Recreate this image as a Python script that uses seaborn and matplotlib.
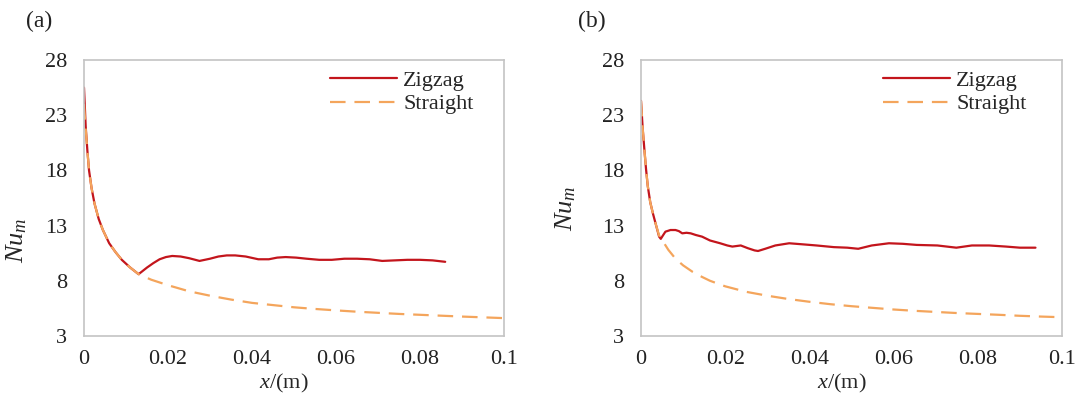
import numpy as np
import pandas as pd
import matplotlib
matplotlib.use("Agg")
import matplotlib.pyplot as plt
import seaborn as sns

# (a) straight channel
a_straight_x = [0, 0.0004, 0.0008, 0.0012, 0.0018, 0.0025, 0.0035, 0.0045, 0.006, 0.0075,
                0.009, 0.011, 0.013, 0.016, 0.02, 0.025, 0.03, 0.035, 0.04, 0.045, 0.05,
                0.055, 0.06, 0.065, 0.07, 0.075, 0.08, 0.085, 0.09, 0.095, 0.1]
a_straight_y = [24.0, 21.8, 19.8, 18.0, 16.4, 15.0, 13.6, 12.6, 11.4, 10.6,
                9.9, 9.2, 8.6, 8.1, 7.6, 7.05, 6.65, 6.3, 6.0, 5.8, 5.6,
                5.45, 5.32, 5.2, 5.1, 5.0, 4.92, 4.84, 4.76, 4.69, 4.62]

# (a) zigzag channel
a_zigzag_x = [0, 0.0004, 0.0008, 0.0012, 0.0018, 0.0025, 0.0035, 0.0045, 0.006, 0.0075,
              0.009, 0.011, 0.013, 0.0135, 0.015, 0.0165, 0.018, 0.0195, 0.021, 0.023,
              0.025, 0.0275, 0.03, 0.032, 0.034, 0.036, 0.0385, 0.0415, 0.044, 0.046,
              0.048, 0.0505, 0.053, 0.056, 0.059, 0.062, 0.065, 0.068, 0.071, 0.074,
              0.077, 0.080, 0.083, 0.086]
a_zigzag_y = [25.5, 22.0, 19.8, 18.0, 16.4, 15.0, 13.6, 12.6, 11.4, 10.6,
              9.9, 9.2, 8.6, 8.75, 9.2, 9.6, 9.95, 10.15, 10.25, 10.2,
              10.05, 9.8, 10.0, 10.2, 10.3, 10.3, 10.2, 9.95, 9.95, 10.1,
              10.15, 10.1, 10.0, 9.9, 9.9, 10.0, 10.0, 9.95, 9.8, 9.85,
              9.9, 9.9, 9.85, 9.72]

# (b) straight channel
b_straight_x = [0, 0.0004, 0.0008, 0.0012, 0.0016, 0.0022, 0.0029, 0.0036, 0.0043, 0.005,
                0.0065, 0.0082, 0.01, 0.0123, 0.0145, 0.0164, 0.02, 0.025, 0.03, 0.035,
                0.04, 0.045, 0.05, 0.055, 0.06, 0.065, 0.07, 0.075, 0.08, 0.085, 0.09,
                0.095, 0.1]
b_straight_y = [24.3, 21.8, 19.9, 18.1, 16.6, 15.1, 14.0, 13.0, 12.1, 11.7,
                10.8, 10.0, 9.4, 8.8, 8.35, 8.0, 7.5, 7.0, 6.65, 6.35,
                6.1, 5.88, 5.7, 5.55, 5.4, 5.28, 5.18, 5.08, 5.0, 4.92, 4.83,
                4.76, 4.7]

# (b) zigzag channel
b_zigzag_x = [0, 0.0004, 0.0008, 0.0012, 0.0016, 0.0022, 0.0029, 0.0036, 0.0043, 0.0047,
              0.0052, 0.0058, 0.007, 0.0082, 0.009, 0.0098, 0.0108, 0.0118, 0.013, 0.0145,
              0.0164, 0.0188, 0.0205, 0.0217, 0.0237, 0.0254, 0.027, 0.0278, 0.0295, 0.0319,
              0.0352, 0.0385, 0.0417, 0.0458, 0.049, 0.0516, 0.0548, 0.0589, 0.0622, 0.0655,
              0.0704, 0.0749, 0.0786, 0.0827, 0.0867, 0.09, 0.0937]
b_zigzag_y = [24.3, 21.8, 19.9, 18.1, 16.6, 15.1, 14.0, 13.0, 12.0, 11.8,
              12.1, 12.45, 12.6, 12.6, 12.5, 12.3, 12.35, 12.3, 12.15, 12.0,
              11.65, 11.4, 11.2, 11.1, 11.2, 10.95, 10.75, 10.7, 10.9, 11.2,
              11.4, 11.3, 11.2, 11.05, 11.0, 10.9, 11.2, 11.4, 11.35, 11.25,
              11.2, 11.0, 11.2, 11.2, 11.1, 11.0, 11.0]

x_ticks = [0, 0.02, 0.04, 0.06, 0.08, 0.1]
x_tick_labels = ["0", "0.02", "0.04", "0.06", "0.08", "0.1"]
y_ticks = [3, 8, 13, 18, 23, 28]
panel_names = ["(a)", "(b)"]
series_names = ["Zigzag", "Straight"]


def make_frame(zx, zy, sx, sy):
    z = pd.DataFrame({"x": zx, "Nu": zy, "Channel": "Zigzag"})
    s = pd.DataFrame({"x": sx, "Nu": sy, "Channel": "Straight"})
    return pd.concat([z, s], ignore_index=True)


frames = [make_frame(a_zigzag_x, a_zigzag_y, a_straight_x, a_straight_y),
          make_frame(b_zigzag_x, b_zigzag_y, b_straight_x, b_straight_y)]

sns.set_style("white")
plt.rcParams["font.family"] = ["Liberation Serif", "DejaVu Serif"]
plt.rcParams["mathtext.fontset"] = "custom"
plt.rcParams["mathtext.rm"] = "Liberation Serif"
plt.rcParams["mathtext.it"] = "Liberation Serif:italic"

palette = {"Zigzag": "#c3151c", "Straight": "#f4a55c"}
dashes = {"Zigzag": "", "Straight": (7, 4)}

fig = plt.figure(figsize=(10.77, 3.97), dpi=100)
W, H = 1077, 397
boxes = [(84, 60, 504, 336), (641, 60, 1062, 336)]
ylabel_pos = [(17, 240), (566, 208)]
xlabel_cx = [284, 842]
legend_x = [330, 883]
panel_pos = [(39, 21), (592, 21)]

for i, df in enumerate(frames):
    x0, y0, x1, y1 = boxes[i]
    ax = fig.add_axes([x0 / W, 1 - y1 / H, (x1 - x0) / W, (y1 - y0) / H])
    sns.lineplot(data=df, x="x", y="Nu", hue="Channel", style="Channel",
                 hue_order=series_names, style_order=series_names,
                 palette=palette, dashes=dashes, estimator=None, sort=False,
                 linewidth=1.6, ax=ax)
    ax.set_xlim(0, 0.1)
    ax.set_ylim(3, 28)
    ax.set_xticks(x_ticks)
    ax.set_xticklabels(x_tick_labels)
    ax.set_yticks(y_ticks)
    ax.tick_params(direction="in", length=4, width=1, color="#bdbdbd",
                   labelsize=16, pad=12, colors="#222222")
    ax.tick_params(axis="x", pad=10)
    for sp in ax.spines.values():
        sp.set_color("#c4c4c4")
        sp.set_linewidth(1.2)

    ax.set_ylabel("$Nu_m$", fontsize=19, va="center")
    ax.yaxis.set_label_coords((ylabel_pos[i][0] - x0) / (x1 - x0),
                              (y1 - ylabel_pos[i][1]) / (y1 - y0))
    # reference crops this label at the bottom edge; nudged up so it stays whole
    ax.set_xlabel("$x$/(m)", fontsize=16, va="top")
    ax.xaxis.set_label_coords((xlabel_cx[i] - x0) / (x1 - x0),
                              (y1 - 372) / (y1 - y0))

    handles, labels = ax.get_legend_handles_labels()
    ax.legend(handles, labels, loc="upper left", frameon=False, fontsize=16,
              handlelength=3.0, handletextpad=0.3, labelspacing=0.15,
              borderpad=0, borderaxespad=0,
              bbox_to_anchor=((legend_x[i] - x0) / (x1 - x0), (y1 - 70) / (y1 - y0)))

    fig.text(panel_pos[i][0] / W, 1 - panel_pos[i][1] / H, panel_names[i],
             fontsize=17, ha="center", va="center", color="#222222")

fig.savefig("out.png", dpi=100)
